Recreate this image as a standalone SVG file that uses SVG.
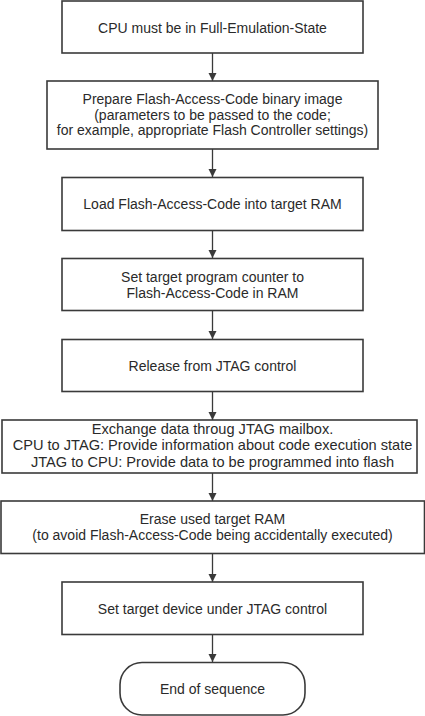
<svg xmlns="http://www.w3.org/2000/svg" width="425" height="716" viewBox="0 0 425 716">
<defs>
<style>
.b{fill:#fff;stroke:#3a3a3a;stroke-width:1.6}
.t{font-family:"Liberation Sans",Arial,sans-serif;font-size:14px;fill:#2a2a2a;text-anchor:middle}
.w{font-size:14.6px}
.c{stroke:#3a3a3a;stroke-width:1.3;fill:none;marker-end:url(#a)}
</style>
<marker id="a" markerWidth="10" markerHeight="10" refX="8" refY="4" orient="auto" markerUnits="userSpaceOnUse">
<path d="M0,0 L8,4 L0,8 z" fill="#3a3a3a"/>
</marker>
</defs>
<rect width="425" height="716" fill="#fff"/>
<g id="connectors">
<line class="c" x1="212.5" y1="53" x2="212.5" y2="81"/>
<line class="c" x1="212.5" y1="149" x2="212.5" y2="177"/>
<line class="c" x1="212.5" y1="230" x2="212.5" y2="258"/>
<line class="c" x1="212.5" y1="311" x2="212.5" y2="339"/>
<line class="c" x1="212.5" y1="392" x2="212.5" y2="420"/>
<line class="c" x1="212.5" y1="473" x2="212.5" y2="501"/>
<line class="c" x1="212.5" y1="553" x2="212.5" y2="582"/>
<line class="c" x1="212.5" y1="634" x2="212.5" y2="662"/>
</g>
<g id="n1"><rect class="b" x="62" y="1" width="301" height="52"/><text class="t" x="212.5" y="33">CPU must be in Full-Emulation-State</text></g>
<g id="n2"><rect class="b" x="47" y="81" width="331" height="68"/>
<text class="t" x="212.5" y="103.5">Prepare Flash-Access-Code binary image</text>
<text class="t" x="212.5" y="119.5">(parameters to be passed to the code;</text>
<text class="t" x="212.5" y="135">for example, appropriate Flash Controller settings)</text></g>
<g id="n3"><rect class="b" x="62" y="177.5" width="301" height="53"/><text class="t" x="212.5" y="209">Load Flash-Access-Code into target RAM</text></g>
<g id="n4"><rect class="b" x="62" y="258.5" width="301" height="52"/>
<text class="t" x="212.5" y="282">Set target program counter to</text>
<text class="t" x="212.5" y="298">Flash-Access-Code in RAM</text></g>
<g id="n5"><rect class="b" x="62" y="339.5" width="301" height="52"/><text class="t" x="212.5" y="370.5">Release from JTAG control</text></g>
<g id="n6"><rect class="b" x="2" y="420" width="415" height="53"/>
<text class="t w" x="212.5" y="434">Exchange data throug JTAG mailbox.</text>
<text class="t w" x="212.5" y="450.3">CPU to JTAG: Provide information about code execution state</text>
<text class="t w" x="212.5" y="466.5">JTAG to CPU: Provide data to be programmed into flash</text></g>
<g id="n7"><rect class="b" x="1" y="501" width="423.5" height="52.5"/>
<text class="t" x="212.5" y="523.5">Erase used target RAM</text>
<text class="t" x="212.5" y="539.5">(to avoid Flash-Access-Code being accidentally executed)</text></g>
<g id="n8"><rect class="b" x="62" y="582" width="301" height="52.5"/><text class="t" x="212.5" y="613.5">Set target device under JTAG control</text></g>
<g id="n9"><rect class="b" x="120" y="662.5" width="185" height="52.5" rx="22" ry="22"/><text class="t" x="212.5" y="693.5">End of sequence</text></g>
</svg>
